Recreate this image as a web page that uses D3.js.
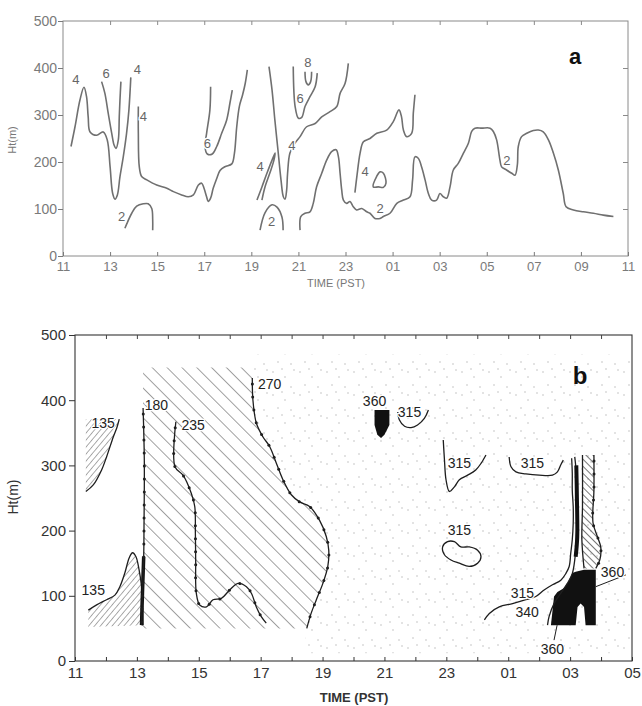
<!DOCTYPE html>
<html>
<head>
<meta charset="utf-8">
<script src="https://cdn.jsdelivr.net/npm/d3@7"></script>
<style>
  body { margin: 0; background: #fff; }
  svg { display: block; }
  text { font-family: "Liberation Sans Narrow", "Liberation Sans", Arial, sans-serif; }
</style>
</head>
<body>
<script>
// ---- panel a : contours, [hour, height m]  (hours past 24 = next day)
var a4Left  = [[11.34,233],[11.51,275],[11.72,332],[11.89,359],[12.0,339],[12.07,296],[12.15,264],[12.43,257],[12.71,264],[12.88,247],[13.0,190],[13.11,133],[13.21,121],[13.31,130],[13.42,169],[13.56,211],[13.7,261],[13.8,311],[13.88,380]]
var a6Left  = [[12.64,371],[12.78,346],[12.92,304],[13.07,261],[13.17,236],[13.25,229],[13.35,247],[13.39,296],[13.42,332],[13.46,371]]
var a4Mid   = [[14.2,318],[14.2,261],[14.24,190],[14.34,169],[14.56,162],[14.98,151],[15.41,144],[15.69,137],[16.04,130],[16.32,126],[16.54,130],[16.75,151],[16.89,155],[16.99,144],[17.1,126],[17.17,116],[17.27,123],[17.38,144],[17.53,165],[17.67,182],[17.88,190],[18.17,196],[18.28,218],[18.38,275],[18.49,318],[18.63,343],[18.74,367],[18.83,396]]
var a6Mid   = [[17.27,360],[17.24,311],[17.1,261],[17.03,233],[17.13,217],[17.34,217],[17.53,233],[17.74,261],[17.95,289],[18.09,325],[18.19,353]]
var a2Left  = [[13.63,59],[13.92,91],[14.13,106],[14.41,111],[14.62,111],[14.77,101],[14.81,77],[14.81,55]]
var a4Thin  = [[19.24,119],[19.45,147],[19.67,177],[19.88,204],[20.01,219],[19.96,204],[19.79,177],[19.58,147],[19.45,119]]
var a2Dome  = [[19.37,55],[19.58,92],[19.88,109],[20.09,104],[20.3,83],[20.35,55]]
var a4Right = [[19.75,403],[19.88,353],[20.0,289],[20.13,226],[20.26,162],[20.36,126],[20.43,121],[20.5,140],[20.54,176],[20.64,219],[20.85,240],[21.07,254],[21.35,275],[21.71,282],[21.99,296],[22.34,307],[22.63,318],[22.77,346],[22.98,367],[23.12,410]]
var a6Right = [[20.78,403],[20.86,318],[21.0,293],[21.14,295],[21.28,318],[21.49,339],[21.71,360],[21.8,389]]
var a8      = [[21.28,392],[21.32,371],[21.42,364],[21.52,371],[21.56,392]]
var a2Main  = [[21.07,55],[21.1,84],[21.28,91],[21.49,94],[21.63,112],[21.77,147],[21.99,176],[22.2,204],[22.41,222],[22.6,226],[22.7,211],[22.77,176],[22.84,140],[22.91,119],[23.05,112],[23.19,116],[23.33,105],[23.47,98],[23.69,101],[23.9,94],[24.04,91],[24.25,80],[24.47,80],[24.61,84],[24.89,91],[25.18,112],[25.46,119],[25.74,126],[25.85,162],[25.95,211],[26.09,208],[26.23,190],[26.38,162],[26.52,133],[26.66,119],[26.87,119],[27.01,133],[27.16,126],[27.3,123],[27.44,147],[27.58,183],[27.79,197],[28.01,219],[28.22,240],[28.36,265],[28.5,272],[28.79,272],[29.14,272],[29.28,265],[29.42,247],[29.56,204],[29.63,190],[29.84,183],[30.06,176],[30.2,172],[30.3,194],[30.34,233],[30.48,254],[30.7,261],[30.98,267],[31.19,268],[31.4,264],[31.62,247],[31.83,219],[32.04,183],[32.25,133],[32.37,105],[32.68,98],[33.1,94],[33.53,91],[33.95,87],[34.38,84]]
var a4Night = [[23.4,135],[23.49,172],[23.62,219],[23.76,243],[24.04,250],[24.33,261],[24.75,268],[25.03,286],[25.27,311],[25.38,296],[25.46,268],[25.6,254],[25.81,261],[25.88,304],[25.95,343]]
var a4Loop  = [[24.18,147],[24.32,169],[24.47,179],[24.61,176],[24.72,155],[24.61,146],[24.4,147]]

var aLines  = [a4Left, a6Left, a4Mid, a6Mid, a2Left, a4Thin, a2Dome, a4Right, a6Right, a8, a2Main, a4Night]
var aLabels = [[11.55,375,'4'],[12.83,389,'6'],[14.16,396,'4'],[14.41,296,'4'],[13.49,84,'2'],[17.13,240,'6'],
               [19.37,190,'4'],[19.86,73,'2'],[20.72,236,'4'],[21.07,336,'6'],[21.4,411,'8'],[23.83,179,'4'],
               [24.47,101,'2'],[29.85,204,'2']]

// ---- panel b : wind direction isolines
var b135Upper = [[11.35,260],[11.59,270],[11.86,293],[12.02,313],[12.24,344],[12.36,359],[12.43,371]]
var b135Lower = [[11.43,78],[11.7,86],[12.02,94],[12.29,101],[12.45,114],[12.61,135],[12.75,158],[12.86,166],[12.97,160],[13.07,140],[13.15,114],[13.18,83],[13.2,55]]
var b180      = [[13.2,388],[13.24,308],[13.23,206],[13.22,160],[13.18,104],[13.15,55]]
var b235      = [[14.26,367],[14.23,298],[14.49,285],[14.76,257],[14.87,237],[14.89,196],[14.9,155],[14.92,104],[15.03,86],[15.25,83],[15.46,94],[15.73,96],[16.0,109],[16.27,119],[16.54,114],[16.7,104],[16.86,83],[17.02,68],[17.18,58]]
var b270      = [[16.73,434],[16.75,400],[16.86,365],[17.07,344],[17.29,329],[17.51,303],[17.72,278],[17.99,255],[18.26,244],[18.58,237],[18.9,216],[19.12,191],[19.2,170],[19.17,145],[19.01,119],[18.8,94],[18.63,73],[18.49,50]]
var b360Blob  = [[20.68,385],[21.16,385],[21.16,362],[21.0,347],[20.89,342],[20.77,347],[20.68,362]]
var b315a     = [[21.43,382],[21.48,370],[21.65,360],[21.86,358],[22.07,362],[22.29,372],[22.42,385]]
var b315b     = [[22.9,339],[22.94,308],[22.99,278],[23.1,260],[23.26,267],[23.42,278],[23.69,285],[23.95,293],[24.12,303],[24.28,316]]
var b315c     = [[25.03,313],[25.09,298],[25.25,290],[25.57,287],[26.0,285],[26.43,285],[26.59,290],[26.7,301],[26.78,308]]
var b315Loop  = [[22.88,175],[23.04,183],[23.26,183],[23.47,175],[23.74,175],[24.01,170],[24.12,160],[24.01,150],[23.74,145],[23.42,150],[23.15,155],[22.94,163]]
var b315Long  = [[24.23,63],[24.39,73],[24.71,83],[25.14,88],[25.57,94],[25.89,99],[26.16,109],[26.43,117],[26.7,124],[26.86,134],[26.97,145],[27.02,165],[27.07,186],[27.1,211],[27.1,237],[27.07,262],[27.07,288],[27.05,311]]
var b340      = [[26.27,55],[26.32,68],[26.48,88],[26.7,104],[26.91,119],[27.07,134],[27.15,155],[27.2,186],[27.23,237],[27.2,288],[27.15,313]]
var b360Fill  = [[26.38,55],[26.48,99],[26.59,106],[26.81,112],[26.97,124],[27.07,135],[27.18,137],[27.45,140],[27.83,140],[27.83,55],[27.5,55],[27.45,83],[27.34,88],[27.24,83],[27.18,55]]
var b360Right = [[27.77,316],[27.77,262],[27.74,212],[27.88,191],[27.99,175],[27.96,155],[27.83,142]]
var b360Left  = [[27.4,316],[27.4,237],[27.38,186],[27.45,142]]
var b360Core  = [[27.2,300],[27.22,250],[27.23,190],[27.18,160]]
var bLeaders  = [[[27.83,114],[28.8,132]], [[26.48,32],[26.58,55]]]

var bLabels = [[11.91,365,'135'],[11.59,109,'135'],[13.63,393,'180'],[14.82,362,'235'],[17.29,425,'270'],
               [20.68,398,'360'],[21.81,382,'315'],[23.42,303,'315'],[25.78,303,'315'],[23.42,201,'315'],
               [25.46,104,'315'],[25.61,75,'340'],[28.37,137,'360'],[26.43,19,'360']]

var heightTicks = [0, 100, 200, 300, 400, 500]

function hourLabel (h) {
  var v = h % 24
  return (v < 10 ? '0' : '') + v
}

var svg = d3.select('body').append('svg').attr('width', 642).attr('height', 706)
var defs = svg.append('defs')

function hatch (id, gap, angle, color, w) {
  defs.append('pattern').attr('id', id)
    .attr('patternUnits', 'userSpaceOnUse')
    .attr('width', gap).attr('height', gap)
    .attr('patternTransform', 'rotate(' + angle + ')')
    .append('line')
    .attr('x1', gap / 2).attr('y1', 0).attr('x2', gap / 2).attr('y2', gap)
    .attr('stroke', color).attr('stroke-width', w)
}
hatch('hatchWide', 10.5, -45, '#8a8a8a', 0.8)
hatch('hatchFine', 4.5, 40, '#888', 0.7)
hatch('hatchStrip', 5, -45, '#555', 0.8)

var stip = defs.append('pattern').attr('id', 'stipple')
  .attr('patternUnits', 'userSpaceOnUse').attr('width', 27).attr('height', 23)
;[[3, 4], [15, 9], [8, 17], [21, 19], [24, 2], [12, 1]].forEach(function (p) {
  stip.append('circle').attr('cx', p[0]).attr('cy', p[1]).attr('r', 0.7).attr('fill', '#b0b0b0')
})

// ================= panel a =================
var xA = d3.scaleLinear().domain([11, 35]).range([63, 628])
var yA = d3.scaleLinear().domain([0, 500]).range([256, 21])
var lineA = d3.line().x(function (d) { return xA(d[0]) }).y(function (d) { return yA(d[1]) })
  .curve(d3.curveCatmullRom.alpha(0.5))
var gA = svg.append('g')
var greyA = '#707070'

gA.append('rect').attr('x', xA(11)).attr('y', yA(500))
  .attr('width', xA(35) - xA(11)).attr('height', yA(0) - yA(500))
  .attr('fill', 'none').attr('stroke', '#8a8a8a').attr('stroke-width', 1)

function styleAxis (g, color, size) {
  g.select('.domain').remove()
  g.attr('color', color).attr('font-size', size).attr('font-family', null)
}

gA.append('g').attr('transform', 'translate(0,' + yA(0) + ')')
  .call(d3.axisBottom(xA).tickValues(d3.range(11, 36, 2)).tickFormat(hourLabel).tickSizeInner(-4).tickSizeOuter(0).tickPadding(6))
  .call(styleAxis, '#7a7a7a', 13)
gA.append('g').attr('transform', 'translate(0,' + yA(500) + ')')
  .call(d3.axisTop(xA).tickValues(d3.range(13, 35, 2)).tickFormat('').tickSizeInner(-4).tickSizeOuter(0))
  .call(styleAxis, '#8a8a8a', 13)
gA.append('g').attr('transform', 'translate(' + xA(11) + ',0)')
  .call(d3.axisLeft(yA).tickValues(heightTicks).tickSizeInner(5).tickSizeOuter(0).tickPadding(1))
  .call(styleAxis, '#7a7a7a', 14)
gA.append('g').attr('transform', 'translate(' + xA(35) + ',0)')
  .call(d3.axisRight(yA).tickValues([100, 200, 300, 400]).tickFormat('').tickSizeInner(-5).tickSizeOuter(0))
  .call(styleAxis, '#8a8a8a', 13)

gA.append('text').attr('transform', 'translate(16,140) rotate(-90)')
  .attr('text-anchor', 'middle').attr('font-size', 11).attr('fill', '#777').text('Ht(m)')
gA.append('text').attr('x', 336).attr('y', 287)
  .attr('text-anchor', 'middle').attr('font-size', 11).attr('fill', '#777').text('TIME (PST)')
gA.append('text').attr('x', 575).attr('y', 64)
  .attr('text-anchor', 'middle').attr('font-size', 22).attr('font-weight', 'bold')
  .attr('font-family', 'Liberation Sans, Arial, sans-serif').attr('fill', '#111').text('a')

gA.selectAll('path.contour').data(aLines).enter().append('path')
  .attr('class', 'contour').attr('d', lineA)
  .attr('fill', 'none').attr('stroke', greyA).attr('stroke-width', 1.6)
gA.append('path').attr('d', lineA.curve(d3.curveCatmullRomClosed.alpha(0.5))(a4Loop))
  .attr('fill', 'none').attr('stroke', greyA).attr('stroke-width', 1.6)

gA.selectAll('text.lab').data(aLabels).enter().append('text')
  .attr('class', 'lab')
  .attr('x', function (d) { return xA(d[0]) }).attr('y', function (d) { return yA(d[1]) })
  .attr('dy', '0.35em').attr('text-anchor', 'middle').attr('font-size', 13)
  .attr('fill', '#666').attr('stroke', '#fff').attr('stroke-width', 3).attr('paint-order', 'stroke')
  .text(function (d) { return d[2] })

// ================= panel b =================
var xB = d3.scaleLinear().domain([11, 29]).range([75, 632])
var yB = d3.scaleLinear().domain([0, 500]).range([661, 335])
var lineB = d3.line().x(function (d) { return xB(d[0]) }).y(function (d) { return yB(d[1]) })
  .curve(d3.curveCatmullRom.alpha(0.5))
var polyB = d3.line().x(function (d) { return xB(d[0]) }).y(function (d) { return yB(d[1]) })
  .curve(d3.curveLinearClosed)
var gB = svg.append('g')
var ink = '#1e1e1e'

// stippled area right of the 270 isoline
var stippleArea = [[16.75, 470]].concat(b270, [[18.4, 12], [29, 12], [29, 470]])
gB.append('path').attr('d', polyB(stippleArea)).attr('fill', 'url(#stipple)')

// hatched areas
var bigHatch = [[13.2, 450], [16.73, 450]].concat(b270, [[13.15, 50]], b180.slice().reverse())
gB.append('path').attr('d', polyB(bigHatch)).attr('fill', 'url(#hatchWide)')
gB.append('path').attr('d', polyB(b135Upper.concat([[11.35, 371]]))).attr('fill', 'url(#hatchFine)')
gB.append('path').attr('d', polyB(b135Lower.concat([[11.43, 52]]))).attr('fill', 'url(#hatchFine)')
gB.append('path').attr('d', polyB(b360Left.concat(b360Right.slice().reverse()))).attr('fill', 'url(#hatchStrip)')

gB.append('rect').attr('x', xB(11)).attr('y', yB(500))
  .attr('width', xB(29) - xB(11)).attr('height', yB(0) - yB(500))
  .attr('fill', 'none').attr('stroke', '#333').attr('stroke-width', 1.1)

gB.append('g').attr('transform', 'translate(0,' + yB(0) + ')')
  .call(d3.axisBottom(xB).tickValues(d3.range(11, 30)).tickFormat(function (d) { return d % 2 ? hourLabel(d) : '' })
    .tickSizeInner(-4).tickSizeOuter(0).tickPadding(6))
  .call(styleAxis, '#333', 15)
gB.append('g').attr('transform', 'translate(0,' + yB(500) + ')')
  .call(d3.axisTop(xB).tickValues(d3.range(12, 29)).tickFormat('').tickSizeInner(-4).tickSizeOuter(0))
  .call(styleAxis, '#444', 13)
gB.append('g').attr('transform', 'translate(' + xB(11) + ',0)')
  .call(d3.axisLeft(yB).tickValues(heightTicks).tickSizeInner(6).tickSizeOuter(0).tickPadding(3))
  .call(styleAxis, '#333', 15)

gB.append('text').attr('transform', 'translate(18,497) rotate(-90)')
  .attr('text-anchor', 'middle').attr('font-size', 14).attr('fill', '#333').text('Ht(m)')
gB.append('text').attr('x', 354).attr('y', 702)
  .attr('text-anchor', 'middle').attr('font-size', 13).attr('font-weight', 'bold').attr('fill', '#333').text('TIME (PST)')
gB.append('text').attr('x', 580).attr('y', 384)
  .attr('text-anchor', 'middle').attr('font-size', 24).attr('font-weight', 'bold')
  .attr('font-family', 'Liberation Sans, Arial, sans-serif').attr('fill', '#111').text('b')

// black 360 areas
gB.append('path').attr('d', polyB(b360Blob)).attr('fill', '#111')
gB.append('path').attr('d', polyB(b360Fill)).attr('fill', '#111')

var bPlain = [b135Upper, b135Lower, b315a, b315b, b315c, b315Long, b340, b360Left]
gB.selectAll('path.iso').data(bPlain).enter().append('path')
  .attr('class', 'iso').attr('d', lineB)
  .attr('fill', 'none').attr('stroke', ink).attr('stroke-width', 1.3)
gB.append('path').attr('d', lineB.curve(d3.curveCatmullRomClosed.alpha(0.5))(b315Loop))
  .attr('fill', 'none').attr('stroke', ink).attr('stroke-width', 1.3)
lineB.curve(d3.curveCatmullRom.alpha(0.5))
gB.append('path').attr('d', lineB(b360Core))
  .attr('fill', 'none').attr('stroke', '#111').attr('stroke-width', 4)
gB.append('path').attr('d', lineB(b180.filter(function (d) { return d[1] <= 160 })))
  .attr('fill', 'none').attr('stroke', '#111').attr('stroke-width', 3.5)
gB.selectAll('path.leader').data(bLeaders).enter().append('path')
  .attr('class', 'leader').attr('d', d3.line().x(function (d) { return xB(d[0]) }).y(function (d) { return yB(d[1]) }))
  .attr('fill', 'none').attr('stroke', ink).attr('stroke-width', 1)

// barbed isolines: dots placed along the drawn path
var barbed = [b180, b235, b270, b360Right]
barbed.forEach(function (pts) {
  var p = gB.append('path').attr('d', lineB(pts))
    .attr('fill', 'none').attr('stroke', ink).attr('stroke-width', 1.3)
  var node = p.node()
  var len = node.getTotalLength()
  var steps = d3.range(6, len, 13)
  gB.selectAll(null).data(steps).enter().append('circle')
    .attr('cx', function (s) { return node.getPointAtLength(s).x })
    .attr('cy', function (s) { return node.getPointAtLength(s).y })
    .attr('r', 1.5).attr('fill', ink)
})

gB.selectAll('text.lab').data(bLabels).enter().append('text')
  .attr('class', 'lab')
  .attr('x', function (d) { return xB(d[0]) }).attr('y', function (d) { return yB(d[1]) })
  .attr('dy', '0.35em').attr('text-anchor', 'middle').attr('font-size', 14)
  .attr('fill', '#222').attr('stroke', '#fff').attr('stroke-width', 2.5).attr('paint-order', 'stroke')
  .text(function (d) { return d[2] })
</script>
</body>
</html>
